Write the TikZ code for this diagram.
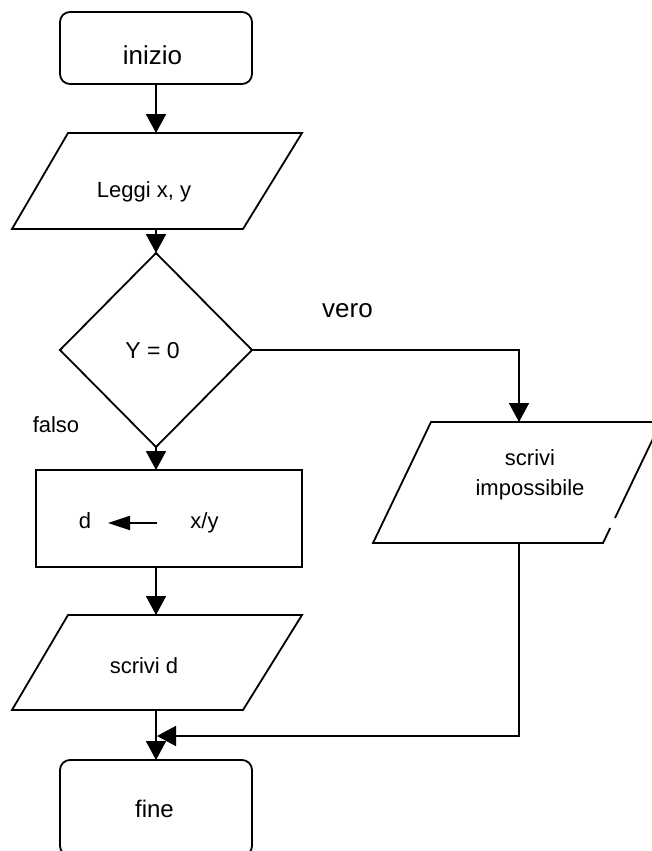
\documentclass[tikz,border=0pt]{standalone}
\usepackage{fontspec}
\setmainfont{Liberation Sans}
\usetikzlibrary{arrows.meta,shapes.geometric,calc}
\tikzset{
  line/.style={line width=1.8pt, line join=miter},
  arr/.style={line, -{Triangle[length=19pt,width=20pt]}},
  term/.style={line, draw, rectangle, rounded corners=10pt, minimum width=192pt, inner sep=0pt, outer sep=0pt},
  box/.style={line, draw, rectangle, inner sep=0pt, outer sep=0pt},
  frame/.style={rectangle, draw=none, inner sep=0pt, outer sep=0pt},
  cond/.style={line, draw, diamond, inner sep=0pt, outer sep=0pt, minimum width=192pt, minimum height=194pt},
  txt/.style={anchor=base, inner sep=0pt, font=\fontsize{22}{26}\selectfont},
  bigtxt/.style={txt, font=\fontsize{26}{30}\selectfont},
}
\begin{document}
\begin{tikzpicture}[x=1pt, y=-1pt]
\useasboundingbox[fill=white] (0,0) rectangle (651,851);

% shapes
\node[term, minimum height=72pt] (inizio) at (156,48) {};
\node[frame, minimum width=290pt, minimum height=96pt] (leggi) at (157,181) {};
\node[cond] (test) at (156,350) {};
\node[box, minimum width=266pt, minimum height=97pt] (assegna) at (169,518.5) {};
\node[frame, minimum width=290pt, minimum height=95pt] (scrivid) at (157,662.5) {};
\node[frame, minimum width=288pt, minimum height=121pt] (impos) at (517,482.5) {};
\node[term, minimum height=96pt] (fine) at (156,808) {};

% parallelograms
\draw[line] ([xshift=56pt]leggi.north west) -- (leggi.north east)
  -- ([xshift=-59pt]leggi.south east) -- (leggi.south west) -- cycle;
\draw[line] ([xshift=56pt]scrivid.north west) -- (scrivid.north east)
  -- ([xshift=-59pt]scrivid.south east) -- (scrivid.south west) -- cycle;
\coordinate (ibr) at ([xshift=-58pt]impos.south east);
\draw[line] ($(ibr)!0.207!(impos.north east)$) -- (impos.north east)
  -- ([xshift=58pt]impos.north west) -- (impos.south west) -- (ibr)
  -- ($(ibr)!0.124!(impos.north east)$);

% texts
\node[bigtxt] (t-inizio) at (152.5,65) {inizio};
\node[txt] (t-leggi) at (144,197) {Leggi x, y};
\node[txt, font=\fontsize{23}{27}\selectfont] (t-test) at (152.5,358) {Y = 0};
\node[txt] (t-falso) at (56,432) {falso};
\node[bigtxt] (t-vero) at (347.5,317) {vero};
\node[txt] (t-scrivi) at (530,465) {scrivi};
\node[txt] (t-impos) at (530,495) {impossibile};
\node[txt] (t-d) at (85,528) {d};
\node[txt] (t-xy) at (204.5,528) {x/y};
\node[txt] (t-scrivid) at (144,673) {scrivi d};
\node[txt, font=\fontsize{24}{28}\selectfont] (t-fine) at (154.5,817) {fine};

% assignment arrow
\coordinate (as-from) at (157,523);
\coordinate (as-to) at (108,523);
\draw[line, -{Triangle[length=22pt,width=14pt]}] (as-from) -- (as-to);

% connectors
\coordinate (merge) at (157,736);
\draw[arr] (inizio.south) -- (inizio.south |- leggi.north);
\draw[arr] (inizio.south |- leggi.south) -- (test.north);
\draw[arr] (test.south) -- (test.south |- assegna.north);
\draw[arr] (test.south |- assegna.south) -- (test.south |- scrivid.north);
\draw[arr] (test.south |- scrivid.south) -- (fine.north);
\draw[arr] (test.east) -| ([xshift=2pt]impos.north);
\draw[arr] ([xshift=2pt]impos.south) |- (merge);
\end{tikzpicture}
\end{document}
